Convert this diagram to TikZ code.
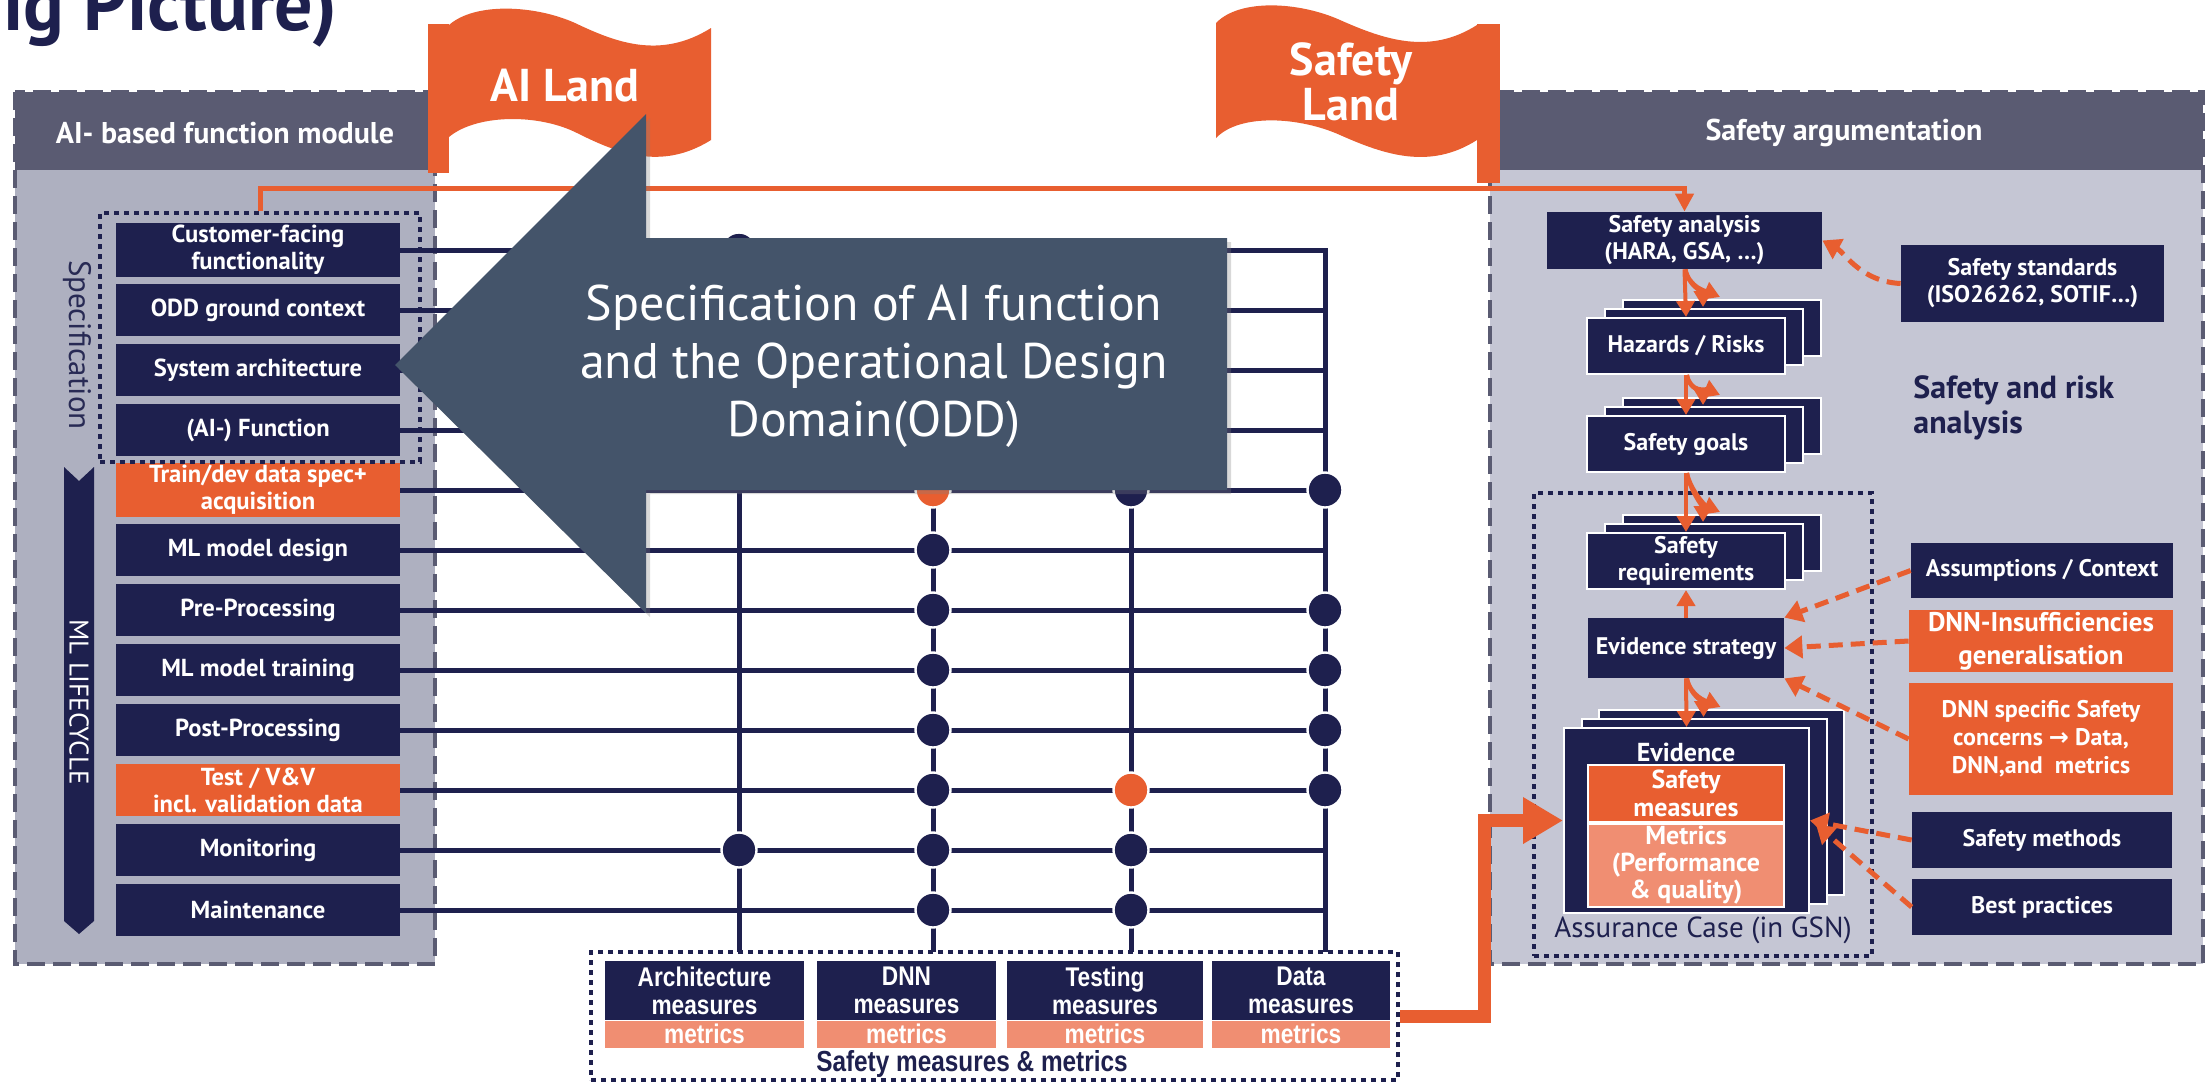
\documentclass[tikz,border=0pt]{standalone}
\usepackage{fontspec}
\setmainfont{PT Sans}
\newfontfamily\narrowf[FakeStretch=0.84]{Liberation Sans}
\newfontfamily\arrowfont{DejaVu Sans}
\usetikzlibrary{arrows.meta,shadows,calc}
\definecolor{navy}{RGB}{30,32,78}
\definecolor{orng}{RGB}{232,94,48}
\definecolor{salmon}{RGB}{240,142,114}
\definecolor{hdr}{RGB}{90,91,114}
\definecolor{lbody}{RGB}{174,176,192}
\definecolor{rbody}{RGB}{197,198,212}
\definecolor{slate}{RGB}{68,84,106}
\definecolor{spectext}{RGB}{40,42,84}
\tikzset{
 gridline/.style={navy, line width=2.5pt},
 lbox/.style={rectangle, fill=navy, text=white, minimum width=142pt, minimum height=26pt, inner sep=1pt, align=center, font=\fontsize{12.3}{13.5}\selectfont\bfseries},
 obox/.style={lbox, fill=orng},
 dot/.style={circle, fill=navy, draw=white, line width=1.2pt, minimum size=17.5pt, inner sep=0pt},
 dotbox/.style={draw=navy, line width=2pt, dash pattern=on 2.5pt off 2.5pt, inner sep=0pt},
 panelborder/.style={draw=hdr, line width=2pt, dash pattern=on 9pt off 4pt},
 rbox/.style={rectangle, fill=navy, text=white, inner sep=1pt, align=center, font=\fontsize{12}{13.5}\selectfont\bfseries},
 rorange/.style={rbox, fill=orng},
 stackbox/.style={rbox, draw=white, line width=1pt, minimum width=99pt, minimum height=28pt},
 forkline/.style={orng, line width=2pt, -{Triangle[length=8pt,width=9pt]}},
 dasharrow/.style={orng, line width=2.5pt, dash pattern=on 7pt off 4pt, -{Triangle[length=9pt,width=11pt]}},
 mtop/.style={rectangle, fill=navy, text=white, inner sep=0pt, minimum height=29.5pt, align=center, font=\narrowf\bfseries\fontsize{13.5}{14}\selectfont},
 mbot/.style={rectangle, fill=salmon, text=white, inner sep=0pt, minimum height=13.5pt, font=\narrowf\bfseries\fontsize{13.5}{14}\selectfont},
 flagtext/.style={text=white, align=center, font=\fontsize{23}{22.5}\selectfont\bfseries},
 hdrtext/.style={text=white, font=\fontsize{15}{17}\selectfont\bfseries},
}
\newcommand\mkstack[4]{%
 \node[stackbox] (#1c) at (#2+36,#3-18) {};
 \node[stackbox] (#1b) at (#2+18,#3-9) {};
 \node[stackbox] (#1) at (#2,#3) {#4};
}
\newcommand\forkarr[2]{%
 \draw[forkline] (#1.south) -- (#2.north);
 \draw[forkline] ($(#1.south)+(1,0)$) .. controls +(2,16) and +(0,-14) .. ($(#2.north)+(17,-10)$);
 \draw[forkline] ($(#1.south)+(1,0)$) .. controls +(4,18) and +(-14,-6) .. ($(#2.north)+(34,-20)$);
}
\begin{document}
\begin{tikzpicture}[x=0.5pt,y=-0.5pt]
\useasboundingbox (0,0) rectangle (2206,1083);
\clip (0,0) rectangle (2206,1083);
\fill[white] (0,0) rectangle (2206,1083);

% title fragment
\node[anchor=base west, inner sep=0pt, text=navy, font=\fontsize{38}{42}\selectfont\bfseries] (title) at (3,30) {ig Picture)};

% left panel
\fill[lbody] (15,92) rectangle (435,964);
\fill[hdr] (15,92) rectangle (435,170);
\path[panelborder] (15,92) rectangle (435,964);
\node[hdrtext] (lhead) at (225,133) {AI- based function module};

% right panel
\fill[rbody] (1490,92) rectangle (2203,964);
\fill[hdr] (1490,92) rectangle (2203,170);
\path[panelborder] (1490,92) rectangle (2203,964);
\node[hdrtext] (rhead) at (1844,133) {Safety argumentation};

% side labels
\node[rotate=-90, text=spectext, font=\fontsize{15.5}{18}\selectfont] (spectitle) at (77,345) {Specification};
\fill[navy] (64,467) -- (79,481) -- (94,467) -- (94,921) -- (79,934) -- (64,921) -- cycle;
\node[rotate=-90, text=white, font=\fontsize{13.5}{15}\selectfont] (mllabel) at (79,702) {ML LIFECYCLE};

% lifecycle boxes
\node[lbox] (b1) at (258,250) {Customer-facing\\functionality};
\node[lbox] (b2) at (258,310) {ODD ground context};
\node[lbox] (b3) at (258,370) {System architecture};
\node[lbox] (b4) at (258,430) {(AI-) Function};
\node[obox] (b5) at (258,490) {Train/dev data spec+\\acquisition};
\node[lbox] (b6) at (258,550) {ML model design};
\node[lbox] (b7) at (258,610) {Pre-Processing};
\node[lbox] (b8) at (258,670) {ML model training};
\node[lbox] (b9) at (258,730) {Post-Processing};
\node[obox] (b10) at (258,790) {Test / V\&V\\incl. validation data};
\node[lbox] (b11) at (258,850) {Monitoring};
\node[lbox] (b12) at (258,910) {Maintenance};
\node[dotbox, minimum width=160pt, minimum height=124.5pt] (specbox) at (260,337.5) {};

% grid
\coordinate (vA) at (739,250);
\coordinate (vB) at (933,250);
\coordinate (vC) at (1131,250);
\coordinate (vD) at (1325,250);
\coordinate (mline) at (994,952);
\draw[gridline] (vA) -- (vA |- mline);
\draw[gridline] (vB) -- (vB |- mline);
\draw[gridline] (vC) -- (vC |- mline);
\draw[gridline, line join=miter] (b1.east) -| (vD |- mline);
\foreach \i in {2,...,12} \draw[gridline] (b\i.east) -- (b\i.east -| vD);
\foreach \r/\c/\s [count=\k] in {1/A/navy, 5/B/orng, 5/C/navy, 5/D/navy, 6/B/navy, 7/B/navy, 7/D/navy, 8/B/navy, 8/D/navy, 9/B/navy, 9/D/navy, 10/B/navy, 10/C/orng, 10/D/navy, 11/A/navy, 11/B/navy, 11/C/navy, 12/B/navy, 12/C/navy}
  \node[dot, fill=\s] (dot\k) at (b\r.east -| v\c) {};

% measures
\node[dotbox, minimum width=403.5pt, minimum height=64pt] (msbox) at (994.5,1016) {};
\node[mtop, minimum width=99.5pt] (march) at (704.5,990.5) {Architecture\\measures};
\node[mbot, minimum width=99.5pt, anchor=north] (marchm) at (march.south) {metrics};
\node[mtop, minimum width=89.5pt] (mdnn) at (906.5,990.5) {DNN\\measures};
\node[mbot, minimum width=89.5pt, anchor=north] (mdnnm) at (mdnn.south) {metrics};
\node[mtop, minimum width=98pt] (mtest) at (1105,990.5) {Testing\\measures};
\node[mbot, minimum width=98pt, anchor=north] (mtestm) at (mtest.south) {metrics};
\node[mtop, minimum width=89pt] (mdata) at (1301,990.5) {Data\\measures};
\node[mbot, minimum width=89pt, anchor=north] (mdatam) at (mdata.south) {metrics};
\node[text=navy, font=\narrowf\bfseries\fontsize{14.5}{16}\selectfont] (mslabel) at (972,1064) {Safety measures \& metrics};

% flags
\fill[orng] (428,24) rectangle (449,173);
\fill[orng] (449,25) .. controls (475,2) and (535,5) .. (575,23) .. controls (615,42) and (660,60) .. (711,28) -- (711,140) .. controls (660,172) and (615,152) .. (575,132) .. controls (535,113) and (475,115) .. (449,137) -- cycle;
\node[flagtext] (ailand) at (565,86) {AI Land};
\fill[orng] (1477,24) rectangle (1500,183);
\fill[orng] (1216,23) .. controls (1240,-2) and (1300,2) .. (1340,20) .. controls (1385,40) and (1430,55) .. (1477,25) -- (1477,140) .. controls (1430,170) and (1385,155) .. (1340,135) .. controls (1300,117) and (1240,113) .. (1216,138) -- cycle;
\node[flagtext] (safetyland) at (1351,82) {Safety\\Land};

% right panel content
\node[rbox, minimum width=137.5pt, minimum height=28.5pt] (sa) at (1684.5,240.5) {Safety analysis\\(HARA, GSA, …)};
\node[rbox, minimum width=131.5pt, minimum height=38.5pt] (ss) at (2032.5,283.5) {Safety standards\\(ISO26262, SOTIF…)};
\coordinate (topline) at (1000,188);
\draw[orng, line width=2.5pt, -{Triangle[length=9pt,width=9pt]}] (specbox.north) |- (topline) -| (sa.north);

\mkstack{hz}{1686}{346}{Hazards / Risks}
\mkstack{sg}{1686}{444}{Safety goals}
\node[dotbox, minimum width=169pt, minimum height=231.5pt] (acbox) at (1703,724.5) {};
\mkstack{sr}{1686}{561}{Safety\\requirements}
\node[rbox, minimum width=98pt, minimum height=30pt] (es) at (1686,648) {Evidence strategy};
\node[stackbox, minimum width=122.5pt, minimum height=92.5pt] (evc) at (1721,802.5) {};
\node[stackbox, minimum width=122.5pt, minimum height=92.5pt] (evb) at (1704.5,811) {};
\node[stackbox, minimum width=122.5pt, minimum height=92.5pt] (ev) at (1686.5,820.5) {};
\node[text=white, font=\fontsize{13}{14}\selectfont\bfseries] (evlabel) at (1686,752) {Evidence};
\node[rorange, draw=white, line width=1pt, minimum width=98pt, minimum height=28.5pt, font=\fontsize{13}{14}\selectfont\bfseries] (smeas) at (1686,793.5) {Safety\\measures};
\node[rbox, fill=salmon, draw=white, line width=1pt, minimum width=98pt, minimum height=37.5pt, font=\fontsize{13}{13.5}\selectfont\bfseries] (smet) at (1686,865.5) {Metrics\\(Performance\\\& quality)};
\node[text=navy, font=\fontsize{14.5}{16}\selectfont] (aclabel) at (1703,930) {Assurance Case (in GSN)};

\node[anchor=north west, align=left, inner sep=0pt, text=navy, font=\fontsize{16}{17.5}\selectfont\bfseries] (srlabel) at (1913,375) {Safety and risk\\analysis};

\node[rbox, minimum width=131pt, minimum height=27.5pt] (asm) at (2042,570.5) {Assumptions / Context};
\node[rorange, minimum width=132pt, minimum height=31pt, font=\fontsize{13.5}{16.5}\selectfont\bfseries] (dnni) at (2041,641) {DNN-Insufficiencies\\generalisation};
\node[rorange, minimum width=132pt, minimum height=56pt, font=\fontsize{12}{14}\selectfont\bfseries] (dnns) at (2041,739) {DNN specific Safety\\concerns {\arrowfont →} Data,\\DNN,and\ \ metrics};
\node[rbox, minimum width=130pt, minimum height=28pt] (sm) at (2042,840) {Safety methods};
\node[rbox, minimum width=130pt, minimum height=28pt] (bp) at (2042,907) {Best practices};

% arrows in the argument
\forkarr{sa}{hz}
\forkarr{hz}{sg}
\forkarr{sg}{sr}
\forkarr{es}{ev}
\draw[forkline] (es.north) -- (sr.south);
\draw[dasharrow] (ss.west) .. controls +(-40,-2) and +(22,12) .. (sa.east);
\draw[dasharrow] (asm.west) -- (es.north east);
\draw[dasharrow] (dnni.west) -- (es.east);
\draw[dasharrow] (dnns.west) -- (es.south east);
\draw[dasharrow] (sm.west) -- (ev.east);
\draw[dasharrow] (bp.west) -- ($(ev.east)+(6,4)$);

% thick connector
\draw[orng, line width=6.5pt, line join=miter, -{Triangle[length=20pt,width=22pt]}] (msbox.east) -- ++(84,0) |- (ev.west);

% callout
\path[fill=slate, drop shadow={opacity=0.3, shadow xshift=2pt, shadow yshift=-2pt}] (395,365) -- (646,114) -- (646,238) -- (1227,238) -- (1227,490) -- (646,490) -- (646,613) -- cycle;
\node[text=white, align=center, font=\fontsize{25}{29}\selectfont] (callout) at (874,366) {Specification of AI function\\and the Operational Design\\Domain(ODD)};
\end{tikzpicture}
\end{document}
